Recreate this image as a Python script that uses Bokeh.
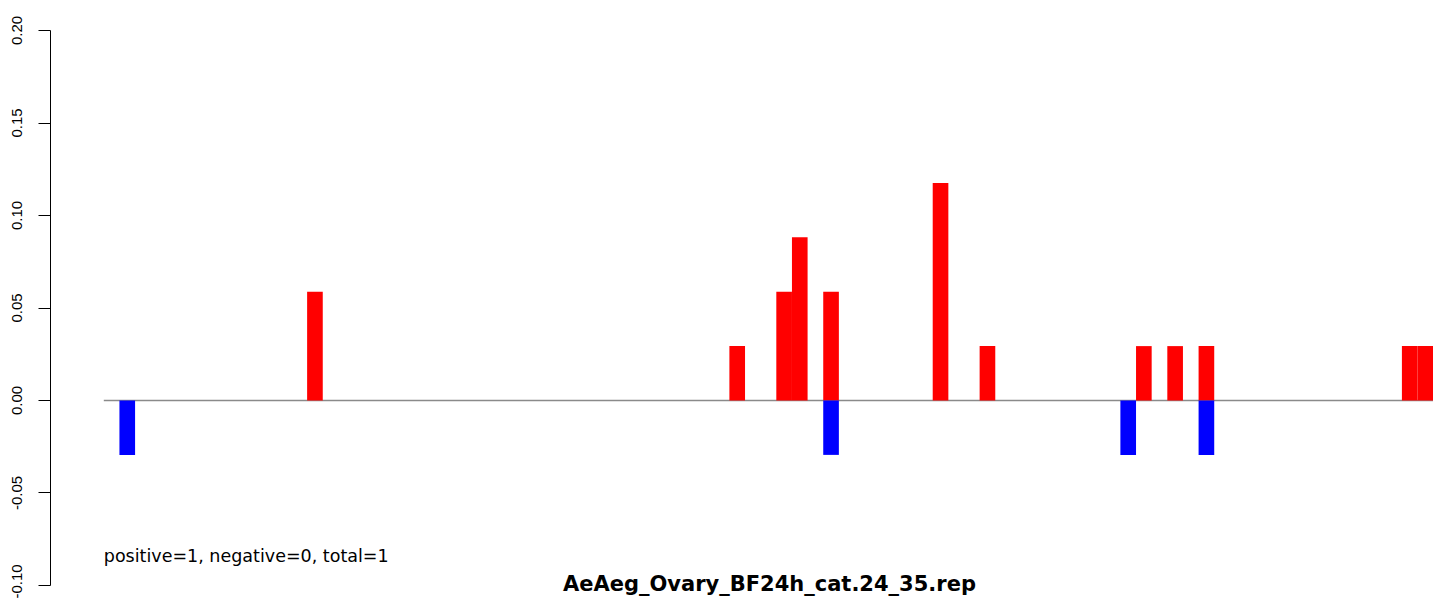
from bokeh.plotting import figure
from bokeh.models import Range1d, Label, PrintfTickFormatter, FixedTicker
from bokeh.embed import file_html
from bokeh.resources import INLINE

# ---- data ----
n_positions = 85
pos_index = [13, 40, 43, 44, 46, 53, 56, 66, 68, 70, 83, 84]
pos_value = [0.0588, 0.0294, 0.0588, 0.0882, 0.0588, 0.1176, 0.0294,
             0.0294, 0.0294, 0.0294, 0.0294, 0.0294]
neg_index = [1, 46, 65, 70]
neg_value = [-0.0294, -0.0294, -0.0294, -0.0294]
y_ticks = [-0.10, -0.05, 0.00, 0.05, 0.10, 0.15, 0.20]
title_text = "AeAeg_Ovary_BF24h_cat.24_35.rep"
note_text = "positive=1, negative=0, total=1"

p = figure(width=1433, height=598, output_backend="svg", toolbar_location=None,
           x_range=Range1d(-3.408, 85.02), y_range=Range1d(-0.10703, 0.21622),
           min_border_left=50, min_border_right=0, min_border_top=0, min_border_bottom=0)
p.outline_line_color = None
p.xgrid.visible = False
p.ygrid.visible = False
p.xaxis.visible = False
p.background_fill_color = "white"
p.border_fill_color = "white"

ax = p.yaxis[0]
ax.bounds = (min(y_ticks), max(y_ticks))
ax.ticker = FixedTicker(ticks=y_ticks)
ax.formatter = PrintfTickFormatter(format="%.2f")
ax.major_label_orientation = "vertical"
ax.major_tick_out = 12
ax.major_tick_in = 0
ax.minor_tick_out = 0
ax.minor_tick_in = 0
ax.major_label_standoff = 16
ax.major_label_text_font = "Liberation Sans"
ax.major_label_text_font_size = "15px"
ax.major_label_text_color = "black"
ax.axis_line_color = "black"
ax.major_tick_line_color = "black"

# baseline
p.segment(x0=[0], y0=[0], x1=[n_positions], y1=[0], line_color="#8a8a8a", line_width=1.3)

# bars
p.quad(left=pos_index, right=[i + 1 for i in pos_index], bottom=0, top=pos_value,
       fill_color="#FF0000", line_color=None)
p.quad(left=neg_index, right=[i + 1 for i in neg_index], bottom=neg_value, top=0,
       fill_color="#0000FF", line_color=None)

p.add_layout(Label(x=0, y=-0.0843, text=note_text, text_font="DejaVu Sans",
                   text_font_size="17.5px", text_color="black",
                   text_baseline="alphabetic", text_align="left"))
p.add_layout(Label(x=42.56, y=-0.0990, text=title_text, text_font="DejaVu Sans",
                   text_font_style="bold", text_font_size="21px", text_color="black",
                   text_baseline="alphabetic", text_align="center"))

open("out.html", "w").write(file_html(p, INLINE))
